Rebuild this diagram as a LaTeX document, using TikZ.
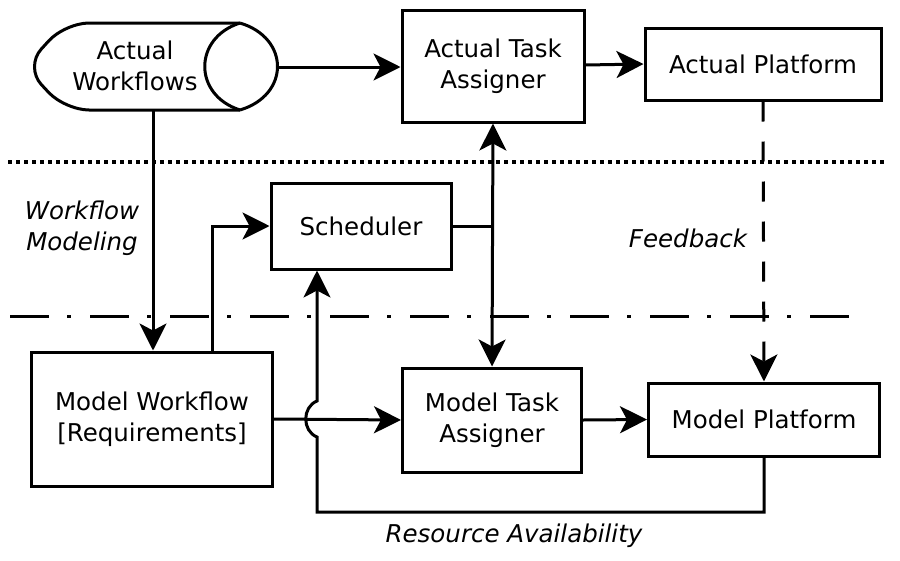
\documentclass[tikz,border=0pt]{standalone}
\usepackage{fontspec}
\setmainfont{DejaVu Sans}
\usetikzlibrary{arrows.meta,calc}
\begin{document}
\begin{tikzpicture}[x=1pt,y=-1pt,
  font=\fontsize{24.5}{31.5}\selectfont,
  box/.style={draw,line width=3pt,align=center,inner sep=0pt},
  conn/.style={line width=3pt},
  arr/.style={conn,-{Stealth[length=27pt,width=27pt,inset=7pt]}},
  darr/.style={conn,{Stealth[length=27pt,width=27pt,inset=7pt]}-{Stealth[length=27pt,width=27pt,inset=7pt]}},
  lbl/.style={font=\fontsize{24.5}{31.5}\selectfont\itshape,align=center}]
\useasboundingbox (0,0) rectangle (900,560);
% separator lines
\draw[line width=3.5pt,dash pattern=on 4pt off 4pt] (8,162) -- (885,162);
\draw[line width=3pt,dash pattern=on 39pt off 18pt on 4pt off 19pt] (10,316) -- (862,316);
% Actual Workflows shape
\draw[line width=3pt,rounded corners=24pt] (240,23) -- (65,23) -- (25,67) -- (65,110) -- (240,110);
\draw[line width=3pt] (240,23) .. controls (193,38) and (193,95) .. (240,110);
\draw[line width=3pt] (240,23) .. controls (290,38) and (290,95) .. (240,110);
\node[align=center] (aw) at (135,66) {Actual\\Workflows};
\coordinate (awE) at (277,67);
\coordinate (awS) at (153,110);
% boxes
\node[box,minimum width=182pt,minimum height=112pt] (ata) at (493,66) {Actual Task\\Assigner};
\node[box,minimum width=236pt,minimum height=72pt] (ap) at (763,64) {Actual Platform};
\node[box,minimum width=180pt,minimum height=86pt] (sch) at (361,226) {Scheduler};
\node[box,minimum width=241pt,minimum height=134pt] (mw) at (152,419) {Model Workflow\\{[}Requirements{]}};
\node[box,minimum width=179pt,minimum height=104pt] (mta) at (492,420) {Model Task\\Assigner};
\node[box,minimum width=231pt,minimum height=73pt] (mp) at (764,419.5) {Model Platform};
% labels
\node[lbl] (wm) at (82,228) {Workflow\\Modeling};
\node[lbl] (fb) at (688,238) {Feedback};
\node[lbl] (ra) at (514,536) {Resource Availability};
% connectors
\draw[arr] (awE) -- (ata.west |- awE);
\draw[arr] (ata.east |- 0,65) -- (ap.west |- 0,64);
\draw[arr] (awS) -- (awS |- mw.north);
\draw[arr] ($(mw.north)+(60,0)$) |- (sch.west);
\draw[conn] (sch.east) -- (sch.east -| ata.south);
\draw[darr] (ata.south) -- (mta.north);
\draw[arr] (mw.east) -- (mta.west);
\draw[arr] (mta.east) -- (mp.west);
\draw[arr,dash pattern=on 20pt off 20pt] (ap.south) -- (mp.north);
\coordinate (rb) at (317,512);
\draw[arr] (mp.south) |- (rb) -- (317,437) .. controls (302,431) and (302,407) .. (317,401) -- (sch.south -| rb);
\end{tikzpicture}
\end{document}
